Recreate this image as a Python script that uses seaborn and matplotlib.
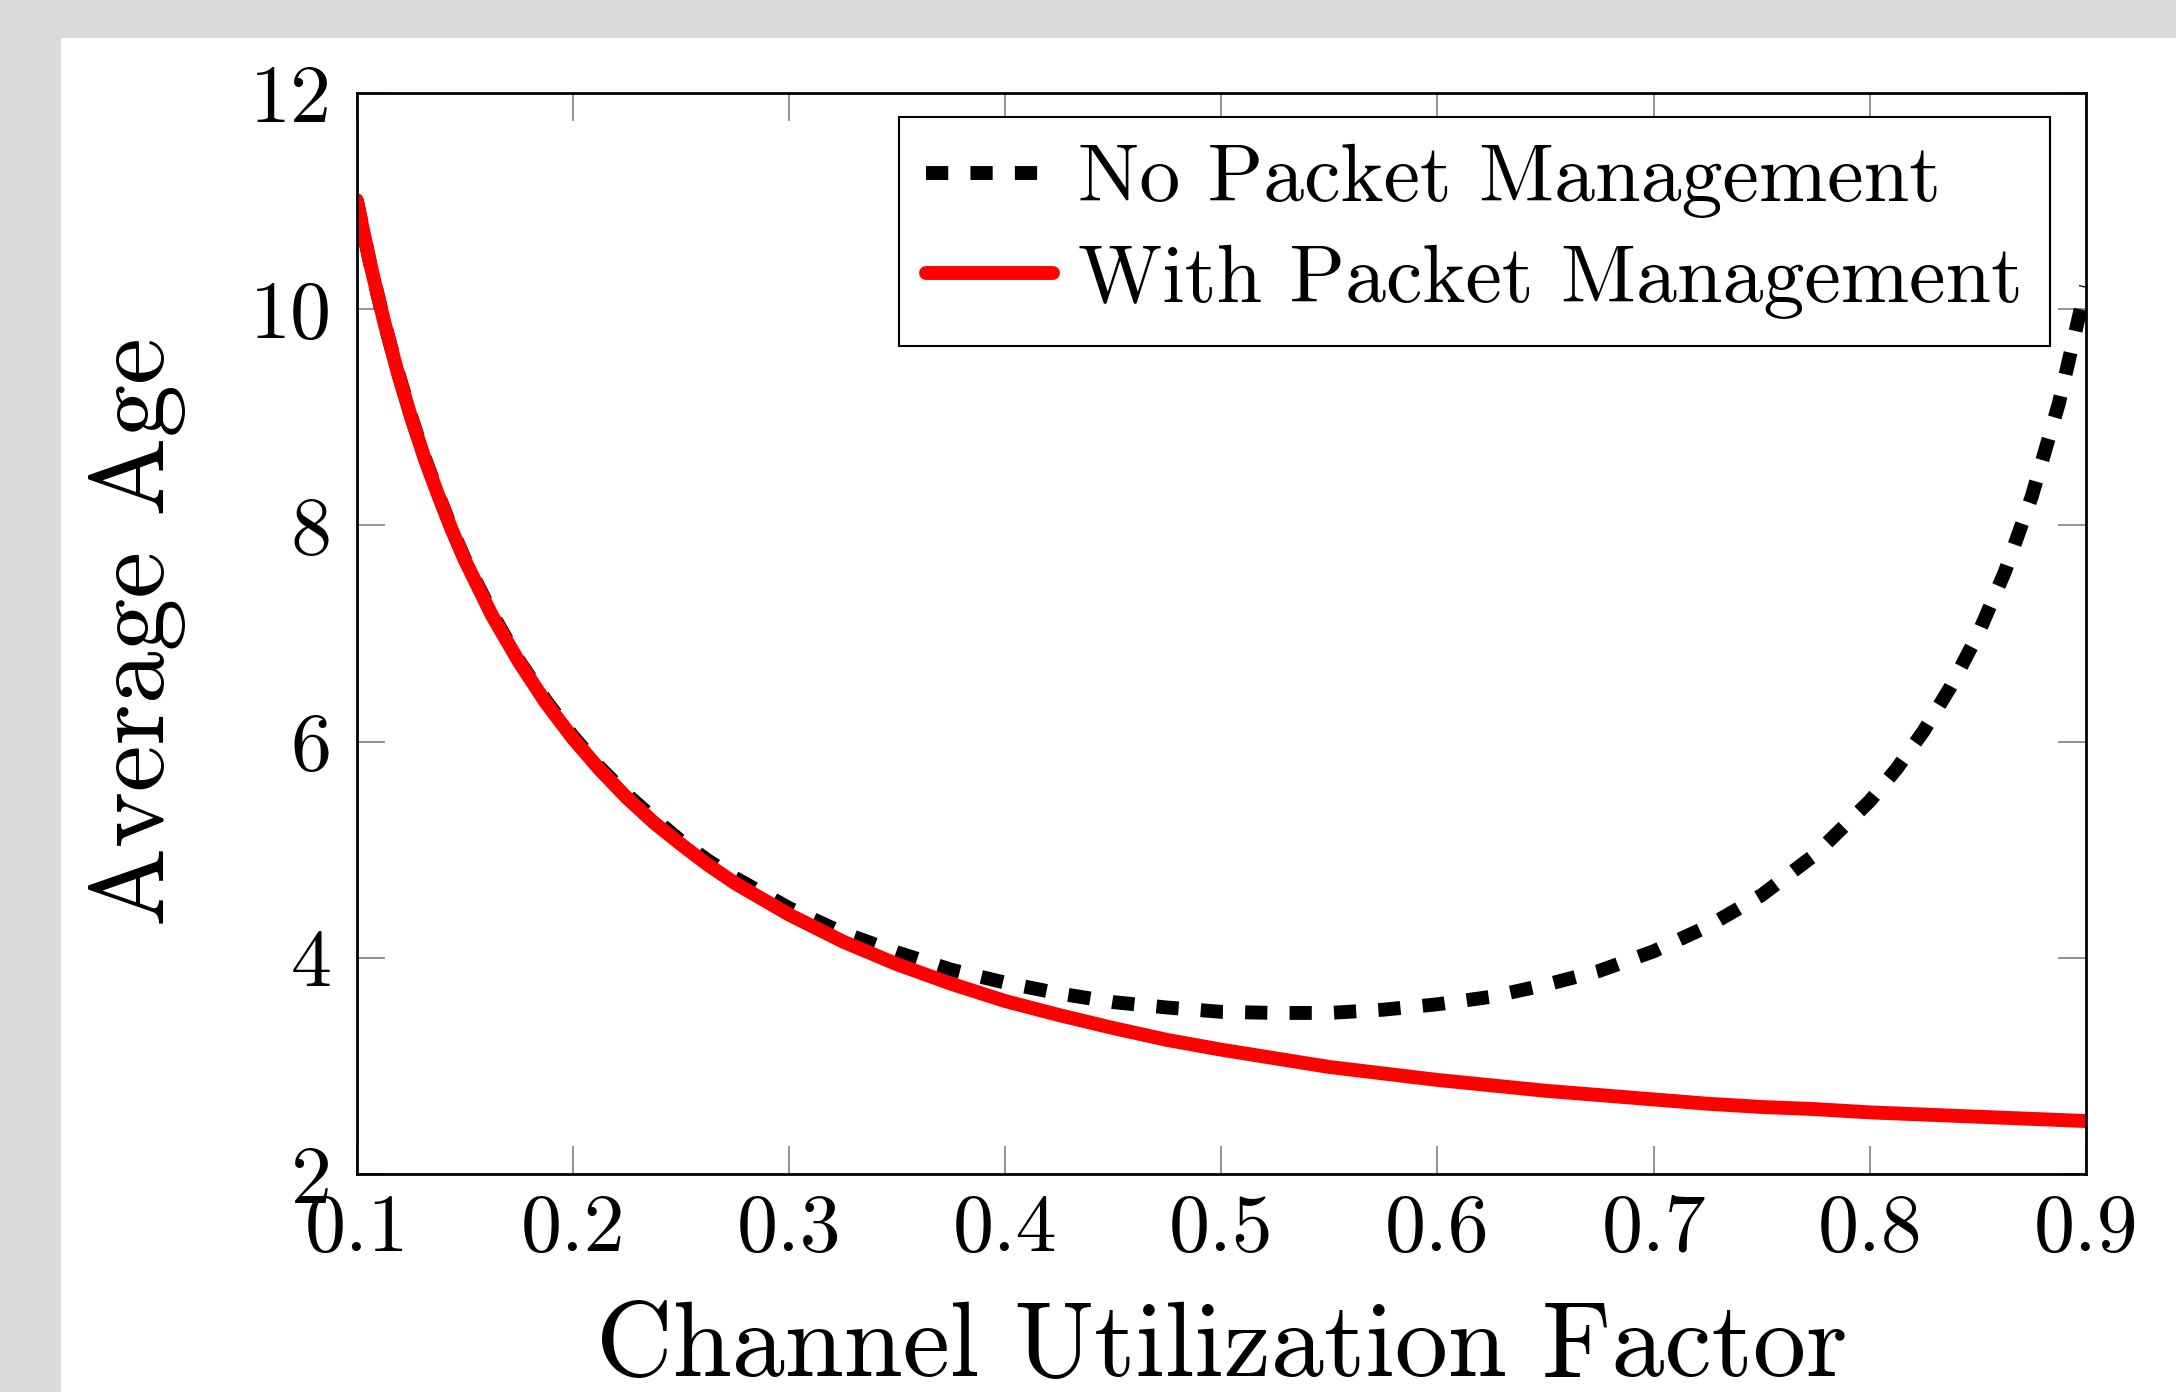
import matplotlib
matplotlib.use('Agg')
import matplotlib.pyplot as plt
import seaborn as sns
from matplotlib.patches import Rectangle

# Values (denser where the curves bend sharply)
utilization = [0.1, 0.10625, 0.1125, 0.11875, 0.125, 0.13125, 0.1375, 0.14375,
               0.15, 0.1625, 0.175, 0.1875, 0.2, 0.2125, 0.225, 0.2375, 0.25,
               0.2625, 0.275, 0.3, 0.325, 0.35, 0.375, 0.4, 0.425, 0.45, 0.475,
               0.5, 0.525, 0.55, 0.575, 0.6, 0.625, 0.65, 0.675, 0.7, 0.725,
               0.75, 0.775, 0.8, 0.8125, 0.825, 0.8375, 0.85, 0.8625, 0.875,
               0.8875, 0.9]

age_no_mgmt = [11.01, 10.42, 9.90, 9.44, 9.02, 8.64, 8.30, 7.98,
               7.69, 7.19, 6.75, 6.38, 6.05, 5.76, 5.51, 5.29, 5.08,
               4.90, 4.74, 4.46, 4.23, 4.05, 3.89, 3.77, 3.67, 3.59, 3.54,
               3.50, 3.49, 3.49, 3.52, 3.57, 3.64, 3.75, 3.88, 4.06, 4.29,
               4.58, 4.96, 5.45, 5.75, 6.10, 6.51, 6.99, 7.57, 8.27,
               9.13, 10.21]

age_with_mgmt = [11.01, 10.42, 9.90, 9.43, 9.01, 8.63, 8.29, 7.97,
                 7.68, 7.17, 6.74, 6.36, 6.03, 5.74, 5.48, 5.25, 5.05,
                 4.86, 4.69, 4.40, 4.15, 3.94, 3.76, 3.60, 3.47, 3.35, 3.24,
                 3.15, 3.07, 2.99, 2.93, 2.87, 2.82, 2.77, 2.73, 2.69, 2.65,
                 2.62, 2.60, 2.57, 2.56, 2.55, 2.54, 2.53, 2.52, 2.51,
                 2.50, 2.49]

x_ticks = [0.1, 0.2, 0.3, 0.4, 0.5, 0.6, 0.7, 0.8, 0.9]
y_ticks = [2, 4, 6, 8, 10, 12]

sns.set_style('ticks')
plt.rcParams['font.family'] = 'serif'
plt.rcParams['font.serif'] = ['cmr10', 'DejaVu Serif']
plt.rcParams['mathtext.fontset'] = 'cm'
plt.rcParams['axes.formatter.use_mathtext'] = True
plt.rcParams['text.color'] = 'black'
plt.rcParams['axes.labelcolor'] = 'black'

W, H = 2176, 1392
fig = plt.figure(figsize=(W / 100, H / 100), dpi=100, facecolor='#d9d9d9')
# white page area on the grey background
fig.patches.append(Rectangle((61 / W, 0), 1 - 61 / W, 1 - 38 / H,
                             transform=fig.transFigure, facecolor='white',
                             edgecolor='none', zorder=-10))

ax_l, ax_r, ax_t, ax_b = 356.7, 2085.9, 93, 1174
ax = fig.add_axes([ax_l / W, 1 - ax_b / H, (ax_r - ax_l) / W, (ax_b - ax_t) / H])
ax.set_facecolor('white')

sns.lineplot(x=utilization, y=age_no_mgmt, ax=ax, color='black', lw=10,
             linestyle=(0, (1.6, 1.6)), label='No Packet Management')
sns.lineplot(x=utilization, y=age_with_mgmt, ax=ax, color='#ff0000', lw=10,
             label='With Packet Management')

ax.set_xlim(0.1, 0.9)
ax.set_ylim(2, 12)
ax.set_xticks(x_ticks, [f'{v:.1f}' for v in x_ticks])
ax.set_yticks(y_ticks, [str(v) for v in y_ticks])

for s in ax.spines.values():
    s.set_visible(True)
    s.set_color('black')
    s.set_linewidth(2)

ax.tick_params(axis='both', direction='in', top=True, right=True, length=20,
               width=1.2, color='#808080', labelsize=59, labelcolor='black')
ax.tick_params(axis='x', pad=14)
ax.tick_params(axis='y', pad=18)

ax.set_xlabel('Channel Utilization Factor', fontsize=76.5, color='black')
ax.set_ylabel('Average Age', fontsize=76, color='black')
ax.xaxis.set_label_coords(0.5, -0.118)
ax.yaxis.set_label_coords(-0.099, 0.502)

leg = ax.legend(loc='upper right',
                bbox_to_anchor=((2050 - ax_l) / (ax_r - ax_l), (ax_b - 117) / (ax_b - ax_t)),
                borderaxespad=0, fontsize=59, frameon=True, fancybox=False,
                framealpha=1, edgecolor='black', handlelength=1.55,
                handletextpad=0.3, borderpad=0.33, labelspacing=0.32)
leg.get_frame().set_linewidth(1.5)
for t in leg.get_texts():
    t.set_color('black')

fig.savefig('out.png', dpi=100, facecolor=fig.get_facecolor())
